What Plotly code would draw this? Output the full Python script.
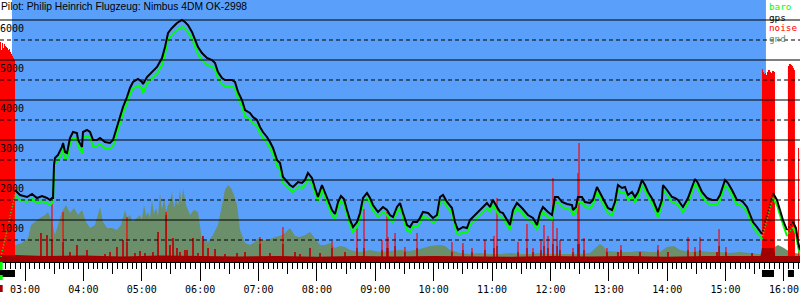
import plotly.graph_objects as go

# ---------------- data (time = minutes after midnight, altitude in m) -------------
TITLE = "Pilot: Philip Heinrich Flugzeug: Nimbus 4DM OK-2998"

HOUR_TICKS = [180, 240, 300, 360, 420, 480, 540, 600, 660, 720, 780, 840, 900, 960]
HOUR_LABELS = ["03:00", "04:00", "05:00", "06:00", "07:00", "08:00", "09:00",
               "10:00", "11:00", "12:00", "13:00", "14:00", "15:00", "16:00"]
HALF_HOUR_TICKS = [210, 270, 330, 390, 450, 510, 570, 630, 690, 750, 810, 870, 930]

ALT_SOLID = [1000, 2000, 3000, 4000, 5000, 6000]
ALT_DASHED = [500, 1500, 2500, 3500, 4500, 5500]
ALT_LABELS = ["1000", "2000", "3000", "4000", "5000", "6000"]

AIRBORNE = (166.6, 941.5)
ENGINE_RUNS = [(154.3, 169.7), (937.4, 949.8), (964.1, 970.3)]

FLIGHT_T = [169.7, 174.9, 182.1, 187.2, 192.3, 197.5, 202.6, 205.7, 207.7, 208.8,
            209.8, 210.8, 213.9, 218.0, 219.1, 221.1, 223.2, 226.2, 229.3, 233.4,
            234.5, 238.6, 239.6, 243.7, 246.8, 249.9, 254.0, 257.1, 262.2, 267.4,
            270.4, 274.5, 277.6, 280.7, 284.8, 287.9, 291.0, 296.1, 300.2, 301.3,
            305.4, 310.5, 315.7, 320.8, 323.9, 327.0, 331.1, 336.2, 341.3, 344.4,
            347.5, 351.6, 354.7, 357.8, 361.9, 367.0, 372.2, 375.3, 378.3, 382.5,
            385.5, 392.7, 395.8, 398.9, 403.0, 406.1, 411.2, 414.3, 418.4, 421.5,
            424.6, 428.7, 431.8, 434.9, 439.0, 442.1, 445.1, 449.3, 452.3, 455.4,
            460.6, 464.7, 467.8, 470.8, 474.9, 478.0, 481.1, 485.2, 488.3, 491.4,
            495.5, 498.6, 501.7, 504.7, 507.8, 510.9, 514.0, 517.1, 521.2, 524.3,
            527.4, 531.5, 534.6, 537.6, 542.8, 547.9, 552.0, 555.1, 558.2, 562.3,
            565.4, 568.5, 572.6, 575.7, 578.7, 582.9, 585.9, 589.0, 594.2, 599.3,
            603.4, 606.5, 609.6, 613.7, 618.8, 621.9, 625.0, 630.1, 634.2, 637.3,
            640.4, 645.5, 650.7, 654.8, 657.9, 660.9, 665.1, 668.2, 671.2, 675.4,
            678.4, 681.5, 685.6, 690.8, 693.9, 696.9, 702.1, 706.2, 709.3, 712.3,
            717.5, 721.6, 724.7, 727.8, 731.9, 737.0, 742.2, 743.2, 746.3, 748.3,
            752.4, 755.5, 760.7, 763.7, 767.8, 770.9, 774.0, 779.1, 783.3, 786.3,
            789.4, 793.5, 796.6, 799.7, 803.8, 806.9, 810.0, 814.1, 817.2, 820.3,
            825.4, 830.5, 834.6, 835.7, 839.8, 844.9, 848.0, 851.1, 856.2, 861.4,
            865.5, 868.6, 871.6, 875.7, 880.9, 886.0, 891.2, 894.3, 899.4, 902.5,
            906.6, 911.7, 914.8, 917.9, 922.0, 925.1, 928.2, 932.3, 935.4, 937.4]

GPS_ALT = [1750, 1625, 1575, 1650, 1550, 1600, 1550, 1500, 1550, 1550,
           2375, 2550, 2625, 2825, 2925, 2700, 2675, 3050, 3200, 3175,
           3000, 2825, 3200, 3250, 3200, 3000, 3000, 3050, 2950, 2925,
           3000, 3325, 3575, 3825, 4075, 4300, 4450, 4525, 4450, 4400,
           4575, 4700, 4825, 5050, 5325, 5675, 5800, 5925, 6000, 5950,
           5875, 5700, 5500, 5325, 5175, 5050, 5000, 4925, 4700, 4550,
           4500, 4500, 4450, 4200, 4000, 3750, 3675, 3575, 3500, 3325,
           3200, 3075, 2950, 2800, 2500, 2425, 2075, 1950, 1875, 1825,
           1950, 1925, 2000, 2175, 2050, 1800, 1575, 1875, 1700, 1500,
           1250, 1150, 1450, 1600, 1525, 1250, 1000, 825, 950, 1175,
           1550, 1675, 1550, 1375, 1200, 1325, 1250, 1125, 1075, 1325,
           1425, 1175, 875, 825, 950, 950, 1050, 1200, 1175, 1050,
           1125, 1575, 1625, 1450, 1300, 950, 750, 825, 800, 1000,
           1075, 1175, 1325, 1425, 1325, 1500, 1325, 1200, 1175, 1000,
           875, 1250, 1425, 1300, 1200, 1125, 1050, 875, 1175, 1325,
           1200, 1125, 1575, 1575, 1450, 1400, 1375, 1250, 1325, 1575,
           1575, 1450, 1425, 1500, 1825, 1675, 1550, 1300, 1250, 1450,
           1875, 1800, 1825, 1625, 1700, 1575, 1700, 2000, 1875, 1700,
           1500, 1200, 1500, 1875, 1750, 1575, 1550, 1500, 1325, 1550,
           1825, 2025, 1925, 1700, 1550, 1500, 1500, 1625, 2000, 1925,
           1750, 1500, 1500, 1450, 1325, 1125, 950, 825, 700, 650]

BARO_ALT = [1625, 1500, 1450, 1525, 1425, 1475, 1425, 1375, 1425, 1425,
            2225, 2400, 2475, 2675, 2775, 2550, 2525, 2900, 3050, 3025,
            2850, 2675, 3050, 3100, 3050, 2850, 2850, 2900, 2800, 2775,
            2850, 3175, 3415, 3665, 3915, 4140, 4290, 4365, 4290, 4175,
            4415, 4540, 4665, 4875, 5150, 5500, 5625, 5750, 5825, 5775,
            5700, 5525, 5325, 5150, 5000, 4875, 4840, 4765, 4540, 4390,
            4340, 4340, 4290, 4040, 3840, 3590, 3515, 3415, 3350, 3175,
            3050, 2925, 2800, 2650, 2350, 2275, 1925, 1825, 1750, 1700,
            1825, 1800, 1875, 2025, 1900, 1675, 1450, 1750, 1575, 1375,
            1125, 1025, 1325, 1475, 1400, 1125, 875, 700, 825, 1050,
            1425, 1550, 1425, 1250, 1075, 1200, 1125, 1000, 950, 1200,
            1300, 1050, 750, 700, 825, 825, 925, 1075, 1050, 925,
            1000, 1450, 1500, 1325, 1175, 825, 625, 700, 675, 875,
            950, 1050, 1200, 1300, 1200, 1375, 1200, 1075, 1050, 875,
            750, 1125, 1300, 1175, 1075, 1000, 925, 750, 1050, 1200,
            1075, 1000, 1450, 1450, 1325, 1275, 1250, 1125, 1200, 1450,
            1450, 1325, 1300, 1375, 1700, 1550, 1425, 1175, 1125, 1325,
            1750, 1675, 1700, 1500, 1575, 1450, 1575, 1875, 1750, 1575,
            1375, 1075, 1375, 1750, 1625, 1450, 1425, 1375, 1200, 1425,
            1700, 1900, 1800, 1575, 1425, 1375, 1375, 1500, 1875, 1800,
            1625, 1375, 1375, 1325, 1200, 1000, 825, 700, 575, 525]

# engine-on climbs (sparse fixes, drawn dotted) and the glides after them
CLIMB1_T = [155.3, 169.7]
CLIMB1_BARO = [75, 1625]
CLIMB2_T = [937.4, 948.7]
CLIMB2_GPS = [650, 1675]
CLIMB2_BARO = [525, 1550]
GLIDE2_T = [948.7, 952.8, 955.9, 959.0, 963.1]
GLIDE2_GPS = [1675, 1500, 1250, 1000, 750]
GLIDE2_BARO = [1550, 1375, 1125, 875, 600]
CLIMB3_T = [963.1, 969.3]
CLIMB3_GPS = [750, 950]
CLIMB3_BARO = [600, 825]
GLIDE3_T = [969.3, 972.4, 974.5, 976.5]
GLIDE3_GPS = [950, 800, 450, 250]
GLIDE3_BARO = [825, 650, 325, 150]

GND_T = [154.3, 169.7, 176.9, 183.1, 186.2, 190.3, 195.4, 200.6, 203.6, 207.7,
         210.8, 213.9, 218.0, 222.1, 226.2, 230.4, 234.5, 238.6, 242.7, 246.8,
         251.9, 257.1, 260.2, 264.3, 269.4, 274.5, 278.7, 282.8, 285.0, 287.9,
         290.5, 293.0, 298.2, 300.0, 302.3, 304.5, 306.4, 308.5, 310.5, 312.5,
         314.6, 316.7, 318.7, 320.8, 322.9, 325.0, 327.0, 329.0, 331.1, 333.2,
         335.2, 337.3, 339.3, 341.0, 342.4, 345.5, 349.6, 353.7, 357.8, 361.9,
         368.1, 373.2, 378.3, 382.5, 385.5, 388.6, 391.7, 394.8, 397.9, 401.0,
         406.1, 411.2, 416.4, 419.5, 423.6, 429.7, 436.9, 442.1, 447.2, 452.3,
         457.5, 462.6, 467.8, 472.9, 478.0, 483.2, 488.3, 493.4, 498.6, 503.7,
         508.9, 514.0, 524.3, 534.6, 544.8, 555.1, 565.4, 575.7, 585.9, 596.2,
         606.5, 611.6, 616.8, 627.1, 637.3, 647.6, 657.9, 668.2, 678.4, 688.7,
         699.0, 709.3, 719.5, 729.8, 740.1, 750.4, 760.7, 767.8, 770.9, 774.0,
         778.1, 791.5, 801.8, 812.1, 822.3, 832.6, 839.8, 847.0, 853.2, 863.5,
         873.7, 884.0, 894.3, 904.5, 914.8, 925.1, 935.4, 945.6, 953.9, 960.0,
         966.2, 976.5]
GND_ALT = [250, 375, 425, 550, 875, 950, 1050, 1125, 1200, 950,
           625, 875, 1200, 1375, 1175, 1300, 1125, 1250, 950, 800,
           875, 1325, 950, 800, 800, 750, 875, 1250, 1050, 1125,
           950, 1000, 1125, 1000, 1375, 1100, 1200, 1050, 1500, 1150,
           1300, 1100, 1675, 1250, 1550, 1200, 1375, 1450, 1700, 1300,
           1500, 1350, 1750, 1400, 1800, 1375, 1125, 1250, 1200, 500,
           450, 625, 875, 1375, 1750, 1875, 1800, 1625, 1375, 750,
           425, 375, 450, 550, 500, 500, 575, 600, 675, 800,
           600, 575, 625, 700, 550, 375, 375, 425, 300, 350,
           325, 250, 200, 250, 200, 225, 250, 225, 275, 350,
           375, 350, 250, 175, 150, 175, 150, 150, 175, 150,
           150, 175, 150, 150, 150, 150, 175, 350, 400, 350,
           225, 200, 200, 225, 200, 200, 325, 350, 250, 200,
           225, 200, 200, 175, 200, 175, 150, 250, 375, 300,
           200, 150]

SPIKE_T = [196.4, 202.6, 207.7, 219.1, 226.2, 233.4, 243.7, 262.2, 267.4, 274.5,
           280.7, 284.8, 293.0, 298.2, 303.3, 311.5, 316.7, 325.0, 329.0, 332.1,
           336.2, 339.3, 344.4, 346.5, 352.7, 357.8, 362.9, 368.1, 375.3, 385.5,
           397.9, 406.1, 421.5, 431.8, 445.1, 457.5, 462.6, 472.9, 483.2, 495.5,
           508.9, 521.2, 528.4, 546.9, 552.0, 553.0, 560.3, 570.5, 582.9, 618.8,
           630.1, 639.4, 652.7, 662.0, 665.1, 686.7, 695.9, 702.1, 710.3, 713.4,
           717.5, 722.6, 726.8, 729.8, 743.2, 748.3, 749.4, 754.5, 778.1, 789.4,
           792.5, 812.1, 830.5, 840.8, 861.4, 868.6, 873.7, 891.2, 893.3, 900.4,
           927.2]
SPIKE_V = [675, 625, 1425, 1200, 200, 375, 250, 150, 200, 325,
           500, 1075, 175, 225, 175, 200, 700, 1200, 375, 550,
           300, 200, 250, 250, 550, 175, 600, 300, 275, 150,
           175, 200, 575, 175, 825, 200, 150, 300, 175, 475,
           200, 800, 1275, 500, 1200, 575, 675, 325, 675, 450,
           425, 300, 500, 600, 1550, 450, 900, 300, 525, 875,
           600, 2050, 800, 500, 300, 2175, 2925, 550, 300, 200,
           375, 200, 375, 200, 575, 325, 575, 200, 775, 325,
           175]
SPIKE_DARK = [675, 625, 500, 450, 200, 375, 250, 150, 200, 325,
              500, 450, 175, 225, 175, 200, 700, 1125, 375, 550,
              300, 200, 250, 250, 550, 175, 600, 300, 275, 150,
              175, 200, 400, 175, 400, 200, 150, 300, 175, 300,
              200, 300, 300, 250, 300, 300, 350, 200, 300, 200,
              250, 200, 250, 300, 350, 200, 300, 200, 250, 350,
              300, 400, 350, 250, 200, 400, 400, 250, 200, 200,
              250, 200, 250, 200, 250, 200, 250, 200, 350, 200,
              175]

NOISE_BASE_T = [154.3, 169.7, 200, 240, 280, 320, 360, 400, 440, 480, 520, 560,
                600, 640, 680, 720, 760, 800, 840, 880, 920, 936.0, 937.4, 949.8,
                951.0, 976.5]
NOISE_BASE_V = [125, 125, 100, 110, 90, 110, 100, 90, 100, 80, 100, 90,
                100, 90, 80, 100, 90, 100, 80, 100, 90, 100, 300, 300,
                100, 100]

# engine noise, one sample per minute-ish from the start of each run
ENGINE_NOISE_STEP = 1.03
ENGINE1_START = 154.3
ENGINE1_NOISE = [5450, 5250, 5425, 5300, 5400, 5350, 5325, 5300, 5250, 5275,
                 5200, 5150, 5100, 5050, 5000]
ENGINE2_START = 937.4
ENGINE2_NOISE = [4775, 4700, 4650, 4675, 4625, 4700, 4750, 4750, 4700, 4675,
                 4725, 4725, 4700]
ENGINE3_START = 964.1
ENGINE3_NOISE = [4850, 4900, 4900, 4875, 4850, 4800, 4750]
ENGINE4_START = 974.5
ENGINE4_NOISE = [2800]

LEGEND = [("baro", "#00ff00"), ("gps", "#000000"), ("noise", "#ff0000"), ("gnd", "#6b8e6b")]

# ---------------- styling ----------------
BLUE = "#5aa0fa"
GND = "#6b8e6b"
RED = "#ff0000"
DARK_RED = "#a00000"
GREEN = "#00ff00"
MONO = "DejaVu Sans Mono"
X_RANGE = [154.3, 976.5]
Y_RANGE = [-50, 6500]
PLOT_H = 262.0

fig = go.Figure()

def area(x, y, color):
    fig.add_trace(go.Scatter(
        x=x + [x[-1], x[0]], y=y + [Y_RANGE[0], Y_RANGE[0]],
        fill="toself", fillcolor=color, mode="lines", line=dict(width=0),
        hoverinfo="skip", showlegend=False))

def steps(start, vals, color):
    xs, ys = [], []
    for i, v in enumerate(vals):
        a = start + i * ENGINE_NOISE_STEP
        b = a + ENGINE_NOISE_STEP
        xs += [a, b]
        ys += [v, v]
    area(xs, ys, color)

def spikes(ts, vs, color, width):
    xs, ys = [], []
    for t, v in zip(ts, vs):
        xs += [t, t, None]
        ys += [Y_RANGE[0], v, None]
    fig.add_trace(go.Scatter(x=xs, y=ys, mode="lines", line=dict(color=color, width=width),
                             hoverinfo="skip", showlegend=False, connectgaps=False))

# ground elevation
area(GND_T, GND_ALT, GND)

# engine noise blocks
steps(ENGINE1_START, ENGINE1_NOISE, RED)
steps(ENGINE2_START, ENGINE2_NOISE, RED)
steps(ENGINE3_START, ENGINE3_NOISE, RED)
steps(ENGINE4_START, ENGINE4_NOISE, RED)

# noise spikes (bright) and their dark lower part
spikes(SPIKE_T, SPIKE_V, RED, 1.2)
spikes(SPIKE_T, SPIKE_DARK, DARK_RED, 1.2)
area(NOISE_BASE_T, NOISE_BASE_V, DARK_RED)

def line(x, y, color, dotted=False, width=2):
    fig.add_trace(go.Scatter(
        x=x, y=y, mode="lines",
        line=dict(color=color, width=(1.5 if dotted else width), dash=("1px,2px" if dotted else "solid")),
        hoverinfo="skip", showlegend=False))

# baro (green) under gps (black)
line(FLIGHT_T, BARO_ALT, GREEN)
line(CLIMB1_T, CLIMB1_BARO, GREEN, dotted=True)
line(CLIMB2_T, CLIMB2_BARO, GREEN, dotted=True)
line(GLIDE2_T, GLIDE2_BARO, GREEN)
line(CLIMB3_T, CLIMB3_BARO, GREEN, dotted=True)
line(GLIDE3_T, GLIDE3_BARO, GREEN)
line(FLIGHT_T, GPS_ALT, "#000000")
line(CLIMB2_T, CLIMB2_GPS, "#000000", dotted=True)
line(GLIDE2_T, GLIDE2_GPS, "#000000")
line(CLIMB3_T, CLIMB3_GPS, "#000000", dotted=True)
line(GLIDE3_T, GLIDE3_GPS, "#000000")

# invisible trace so the half-hour tick axis is drawn
fig.add_trace(go.Scatter(x=[HALF_HOUR_TICKS[0]], y=[0], xaxis="x2", mode="markers",
                         marker=dict(opacity=0), hoverinfo="skip", showlegend=False))

shapes = [dict(type="rect", xref="x", yref="paper", x0=AIRBORNE[0], x1=AIRBORNE[1],
               y0=0, y1=1, fillcolor=BLUE, line=dict(width=0), layer="below")]
for v in ALT_SOLID:
    shapes.append(dict(type="line", xref="paper", yref="y", x0=0, x1=1, y0=v, y1=v,
                       line=dict(color="black", width=1), layer="above"))
for v in ALT_DASHED:
    shapes.append(dict(type="line", xref="paper", yref="y", x0=0, x1=1, y0=v, y1=v,
                       line=dict(color="black", width=1, dash="4px,3px"), layer="above"))
for a, b in ENGINE_RUNS:
    shapes.append(dict(type="rect", xref="x", yref="paper", x0=a, x1=b,
                       y0=-8 / PLOT_H, y1=-15 / PLOT_H, fillcolor="black",
                       line=dict(width=0), layer="above"))
# small marks at the very left below the axis
shapes.append(dict(type="rect", xref="paper", yref="paper", x0=0, x1=2.7 / 800,
                   y0=0, y1=-8 / PLOT_H, fillcolor=GREEN, line=dict(width=0)))
shapes.append(dict(type="rect", xref="paper", yref="paper", x0=0, x1=2.7 / 800,
                   y0=-13 / PLOT_H, y1=-18 / PLOT_H, fillcolor=GREEN, line=dict(width=0)))
shapes.append(dict(type="rect", xref="paper", yref="paper", x0=0, x1=2.7 / 800,
                   y0=-23 / PLOT_H, y1=-30 / PLOT_H, fillcolor=DARK_RED, line=dict(width=0)))

annotations = [dict(text=TITLE, x=0, y=1, xref="paper", yref="paper", xanchor="left",
                    yanchor="top", xshift=-1, yshift=1, showarrow=False,
                    font=dict(family="Liberation Sans", size=10.3, color="black"))]
for v, lab in zip(ALT_SOLID, ALT_LABELS):
    annotations.append(dict(text=lab, x=0, y=v, xref="paper", yref="y", xanchor="left",
                            yanchor="middle", xshift=-2, yshift=-8, showarrow=False,
                            font=dict(family=MONO, size=10, color="black")))
legend_centers = [6.5, 17, 27.5, 38]
for (name, col), c in zip(LEGEND, legend_centers):
    annotations.append(dict(text=name, x=770 / 800, y=1 - c / PLOT_H, xref="paper", yref="paper",
                            xanchor="left", yanchor="middle", xshift=-2, showarrow=False,
                            borderpad=0, font=dict(family=MONO, size=9.3, color=col)))

fig.update_layout(
    width=800, height=300,
    margin=dict(l=0, r=0, t=0, b=300 - PLOT_H),
    paper_bgcolor="white", plot_bgcolor="white",
    showlegend=False,
    xaxis=dict(range=X_RANGE, tickmode="array", tickvals=HOUR_TICKS, ticktext=HOUR_LABELS,
               ticks="outside", ticklen=18, tickwidth=1, tickcolor="black",
               showgrid=False, zeroline=False, showline=True, linecolor="black", linewidth=1,
               tickfont=dict(family=MONO, size=10, color="black"),
               minor=dict(tickmode="linear", tick0=0, dtick=5, ticks="outside", ticklen=6,
                          tickwidth=1, tickcolor="black", showgrid=False),
               fixedrange=True),
    xaxis2=dict(range=X_RANGE, overlaying="x", anchor="y", side="bottom",
                tickmode="array", tickvals=HALF_HOUR_TICKS, ticks="outside", ticklen=11,
                tickwidth=1, tickcolor="black", showticklabels=False, showgrid=False,
                zeroline=False, showline=False, fixedrange=True),
    yaxis=dict(range=Y_RANGE, visible=False, fixedrange=True),
    shapes=shapes, annotations=annotations,
)

fig.write_html("out.html")
